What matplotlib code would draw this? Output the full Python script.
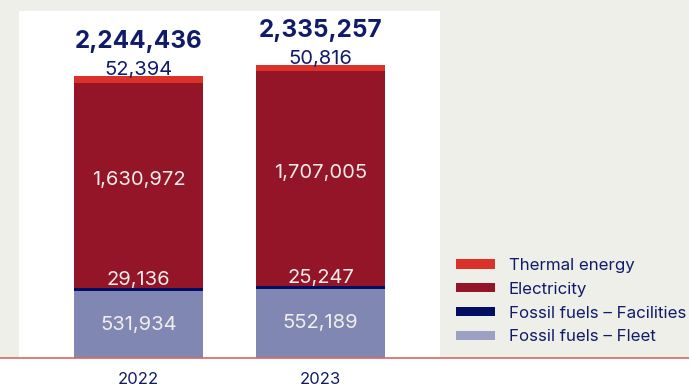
import matplotlib
matplotlib.use("Agg")
import matplotlib.pyplot as plt
from matplotlib.patches import Patch, Rectangle
from matplotlib.lines import Line2D
import matplotlib.transforms as mtransforms

years = ["2022", "2023"]
fleet = [531934, 552189]
facilities = [29136, 25247]
electricity = [1630972, 1707005]
thermal = [52394, 50816]
totals = [2244436, 2335257]

series_names = ["Thermal energy", "Electricity", "Fossil fuels – Facilities", "Fossil fuels – Fleet"]
c_thermal = "#dc3128"
c_elec = "#941428"
c_fac = "#020e62"
c_fleet = "#8087b2"
c_fleet_legend = "#9ca1c4"
navy = "#101c6a"
label_white = "#f2eeec"

plt.rcParams["font.family"] = ["Inter", "DejaVu Sans"]

W, H = 689, 388
fig = plt.figure(figsize=(W / 100, H / 100), dpi=100, facecolor="#efefe9")

# white strip under the baseline
fig.add_artist(Rectangle((0, 0), 1, (H - 358) / H, transform=fig.transFigure,
                         facecolor="white", edgecolor="none", zorder=0))

ax = fig.add_axes([19 / W, (H - 358) / H, (440 - 19) / W, (358 - 11) / H])
ax.set_facecolor("white")
for s in ax.spines.values():
    s.set_visible(False)
ax.set_xticks([])
ax.set_yticks([])

x = [0, 1]
bw = 0.709
ax.bar(x, fleet, bw, color=c_fleet, linewidth=0)
bottom2 = list(fleet)
ax.bar(x, facilities, bw, bottom=bottom2, color=c_fac, linewidth=0)
bottom3 = [a + b for a, b in zip(fleet, facilities)]
ax.bar(x, electricity, bw, bottom=bottom3, color=c_elec, linewidth=0)
bottom4 = [a + b for a, b in zip(bottom3, electricity)]
ax.bar(x, thermal, bw, bottom=bottom4, color=c_thermal, linewidth=0)

ax.set_xlim(-0.6566, 1.6566)
ax.set_ylim(0, 2763800)

px = 7965  # data units per pixel
for i in x:
    ax.text(i, fleet[i] / 2, f"{fleet[i]:,}", ha="center", va="center",
            color=label_white, fontsize=14.5)
    ax.text(i, fleet[i] + 2 * px, f"{facilities[i]:,}", ha="center", va="bottom",
            color=label_white, fontsize=14.5)
    ax.text(i, bottom3[i] + electricity[i] / 2 + 5 * px, f"{electricity[i]:,}",
            ha="center", va="center", color=label_white, fontsize=14.5)
    ax.text(i, totals[i] - 3 * px, f"{thermal[i]:,}", ha="center", va="bottom",
            color=navy, fontsize=14.5)
    ax.text(i, totals[i] + 23 * px, f"{totals[i]:,}", ha="center", va="bottom",
            color=navy, fontsize=17.5, fontweight="bold")

trans = mtransforms.blended_transform_factory(ax.transData, fig.transFigure)
for i in x:
    ax.text(i, (H - 379) / H, years[i], transform=trans, ha="center", va="center",
            color=navy, fontsize=12)

# baseline
fig.add_artist(Line2D([0, 1], [(H - 358) / H] * 2, transform=fig.transFigure,
                      color="#d8675b", linewidth=1.2, zorder=5))

handles = [Patch(facecolor=c, edgecolor="none") for c in
           [c_thermal, c_elec, c_fac, c_fleet_legend]]
fig.legend(handles, series_names, loc="upper left",
           bbox_to_anchor=(456 / W, 1 - 258 / H), frameon=False,
           handlelength=2.28, handleheight=0.45, handletextpad=0.84,
           labelspacing=0.52, fontsize=12.2, labelcolor=navy,
           borderaxespad=0, borderpad=0)

fig.savefig("out.png", dpi=100, facecolor=fig.get_facecolor())
